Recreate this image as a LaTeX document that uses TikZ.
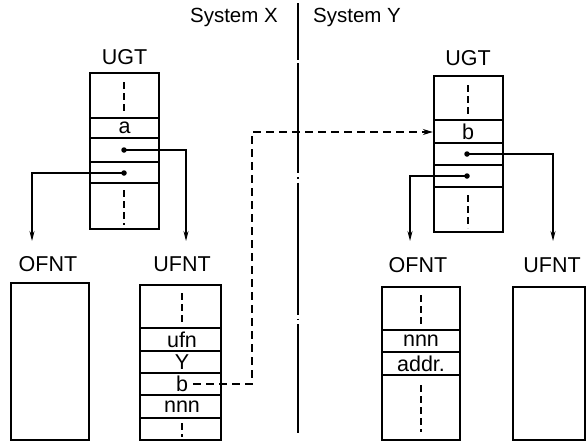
\documentclass[tikz,border=0pt]{standalone}
\usepackage{fontspec}
\setmainfont{Liberation Sans}
\usetikzlibrary{arrows.meta,calc}
\begin{document}
\begin{tikzpicture}[x=1pt,y=-1pt,
  tbl/.style={draw,line width=2.4pt},
  rowline/.style={line width=1.5pt},
  lbl/.style={font=\fontsize{21.5}{24}\selectfont,inner sep=0pt},
  cell/.style={font=\fontsize{21.5}{24}\selectfont,inner sep=0pt},
  head/.style={font=\fontsize{20.5}{24}\selectfont,inner sep=0pt},
  ptr/.style={line width=1.2pt,-{Stealth[length=10pt,width=5pt]}},
  dptr/.style={line width=1.2pt,dash pattern=on 8pt off 5pt},
  vdash/.style={line width=1.4pt,dash pattern=on 7pt off 4pt},
  dotn/.style={circle,fill,inner sep=0pt,minimum size=5.5pt}]
\useasboundingbox (0,0) rectangle (586,442);

% headings and divider
\node[head,anchor=east] (sx) at (278,17) {System X};
\node[head,anchor=west] (sy) at (313,17) {System Y};
\coordinate (divT) at (298,3);
\coordinate (divB) at (298,433);
\draw[line width=1.3pt,dash pattern=on 57pt off 3pt on 110pt off 4pt on 1.5pt off 4pt on 132pt off 4pt on 1.5pt off 4pt on 120pt] (divT) -- (divB);

% ---- System X ----
\node[lbl] (ugtXl) at (124.5,57) {UGT};
\node[tbl,minimum width=69pt,minimum height=156pt,inner sep=0pt] (ugtX) at (124.5,151) {};
\foreach \y in {118,138,162,183} \draw[rowline] (90,\y) -- (159,\y);
\draw[vdash] (124,82) -- (124,112);
\draw[vdash] (124,190) -- (124,225);
\node[cell] (aX) at (124.5,127.5) {a};
\node[dotn] (d1X) at (124,150) {};
\node[dotn] (d2X) at (124,173) {};

\node[lbl] (ofntXl) at (48,264) {OFNT};
\node[tbl,minimum width=78pt,minimum height=157pt,inner sep=0pt] (ofntX) at (50,361.5) {};

\node[lbl] (ufntXl) at (182,264) {UFNT};
\node[tbl,minimum width=81pt,minimum height=155pt,inner sep=0pt] (ufntX) at (180.5,362.5) {};
\foreach \y in {328,351,373,395,418} \draw[rowline] (140,\y) -- (221,\y);
\draw[vdash] (182,293) -- (182,322);
\draw[vdash] (182,423) -- (182,437);
\node[cell] (ufn) at (182,339.5) {ufn};
\node[cell] (yX) at (182,362) {Y};
\node[cell] (bX) at (182,384) {b};
\node[cell] (nnnX) at (182,406.5) {nnn};

\coordinate (aUX) at (186,241);
\coordinate (aOX) at (32,241);
\draw[ptr] (d1X.center) -| (aUX);
\draw[ptr] (d2X.center) -| (aOX);

% ---- System Y ----
\node[lbl] (ugtYl) at (468,58) {UGT};
\node[tbl,minimum width=69pt,minimum height=156pt,inner sep=0pt] (ugtY) at (468.5,154) {};
\foreach \y in {120,143,165,187} \draw[rowline] (434,\y) -- (503,\y);
\draw[vdash] (468,85) -- (468,115);
\draw[vdash] (468,195) -- (468,228);
\node[cell] (bY) at (468,131.5) {b};
\node[dotn] (d1Y) at (467,154) {};
\node[dotn] (d2Y) at (467,176) {};

\node[lbl] (ofntYl) at (418,265) {OFNT};
\node[tbl,minimum width=78pt,minimum height=153pt,inner sep=0pt] (ofntY) at (421,363.5) {};
\foreach \y in {330,352,375} \draw[rowline] (382,\y) -- (460,\y);
\draw[vdash] (421,295) -- (421,325);
\draw[vdash] (421,385) -- (421,432);
\node[cell] (nnnY) at (421,341) {nnn};
\node[cell] (addr) at (421,363.5) {addr.};

\node[lbl] (ufntYl) at (552,265) {UFNT};
\node[tbl,minimum width=72pt,minimum height=153pt,inner sep=0pt] (ufntY) at (549,363.5) {};

\coordinate (aUY) at (553,241);
\coordinate (aOY) at (410,241);
\draw[ptr] (d1Y.center) -| (aUY);
\draw[ptr] (d2Y.center) -| (aOY);

% cross-system dashed pointer
\coordinate (c0) at ($(bX.east)+(5,0)$);
\coordinate (c1) at (252,384);
\coordinate (c2) at (252,132);
\coordinate (c3) at (ugtY.west |- c2);
\coordinate (c4) at ($(c3)+(-10,0)$);
\draw[dptr] (c0) -- (c1) -- (c2) -- (c4);
\draw[-{Stealth[length=10pt,width=6pt]},line width=1.2pt] (c4) -- (c3);
\end{tikzpicture}
\end{document}
